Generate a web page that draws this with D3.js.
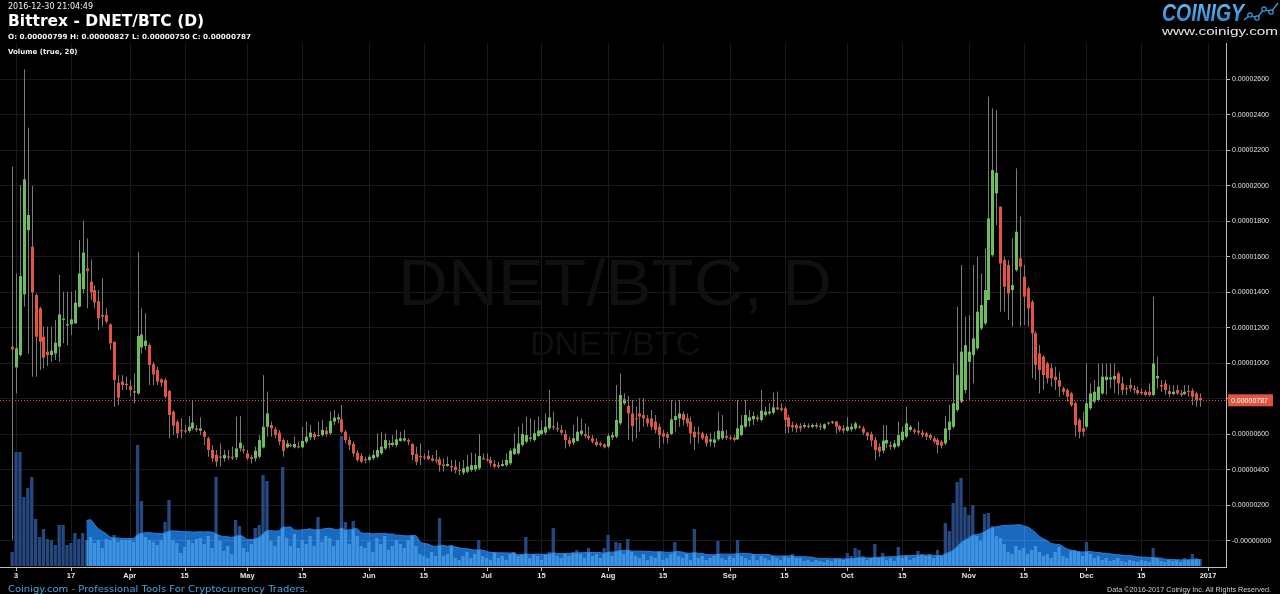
<!DOCTYPE html>
<html><head><meta charset="utf-8">
<script src="https://cdn.jsdelivr.net/npm/d3@7"></script>
<style>
html,body{margin:0;padding:0;background:#000;overflow:hidden;}
svg{display:block;}
</style></head><body>
<svg id="c" width="1280" height="594"></svg>
<script>
// ---- DATA (prices in satoshi = 1e-8 BTC), one candle per day starting 2016-03-02 ----
const startDate = "2016-03-02";
const openS = [1089,973,1042,1384,1746,1652,1380,1305,1145,1061,1042,1051,1089,1243,1213,1215,1220,1314,1414,1530,1455,1408,1346,1268,1267,1215,1117,886,892,880,867,839,826,1085,1093,1098,990,958,905,901,839,723,666,620,617,614,629,629,
616,610,573,507,479,470,460,471,469,466,516,511,488,466,460,469,522,638,648,623,605,563,522,536,522,529,522,554,578,597,592,591,616,601,667,680,680,610,563,541,492,473,456,451,460,469,488,516,544,535,535,
558,560,563,541,484,473,470,475,460,452,454,426,417,417,413,395,379,385,394,398,404,461,456,451,428,422,417,422,432,484,488,535,554,570,563,586,597,605,629,640,631,620,597,563,548,558,597,597,586,573,554,
544,539,526,578,582,657,770,755,713,686,713,704,685,685,667,638,601,597,597,676,685,710,685,667,610,606,601,586,554,548,567,573,586,577,576,567,591,638,670,680,691,676,704,713,717,747,742,742,691,648,648,
642,638,643,638,640,643,629,662,661,667,642,629,616,623,629,639,629,605,597,563,526,503,544,535,522,529,563,582,620,620,616,605,601,591,573,563,554,
544,620,638,732,779,845,1004,1042,1080,1192,1220,1352,1605,1953,1878,1577,1549,1408,1521,1587,1483,1418,1342,1164,1051,1033,995,967,920,901,854,845,826,770,676,629,638,742,779,789,826,901,905,905,939,882,856,873,854,845,835,835,835,817,911,873,882,839,822,845,826,822,840,841,826,799];
const highS = [2103,1502,2000,2651,2323,1994,1389,1314,1202,1202,1202,1239,1493,1399,1399,1399,1408,1690,1799,1699,1581,1436,1408,1474,1305,1220,1117,929,929,920,901,939,1624,1305,1277,1108,1004,976,911,911,845,730,676,685,648,698,788,648,
691,620,582,535,507,544,507,507,526,695,698,535,507,479,526,591,929,836,667,638,620,573,563,544,582,554,638,667,648,610,667,676,638,723,732,713,760,620,582,554,507,488,469,479,507,601,610,601,563,591,620,
610,620,573,544,526,544,488,507,479,507,469,460,469,451,451,441,451,479,492,488,597,488,488,469,451,441,451,488,516,601,638,657,695,685,676,695,676,713,845,723,667,648,620,582,648,695,685,657,638,591,573,
554,544,601,610,873,939,826,811,789,751,798,798,704,732,704,657,620,610,789,779,789,723,713,695,638,638,610,601,601,610,723,704,620,591,591,789,704,789,732,723,704,845,751,770,830,836,770,751,704,667,657,
657,661,657,657,661,657,657,667,672,672,648,648,691,657,667,648,642,610,610,582,544,648,648,554,563,667,638,751,648,629,667,620,610,601,586,573,563,
700,760,995,1314,1549,1258,1267,1549,1596,1502,1643,2497,2432,2422,1878,1596,1577,1699,2094,1821,1549,1427,1352,1174,1098,1042,1004,995,976,948,864,854,835,779,685,723,995,882,901,995,995,995,995,995,948,920,873,911,873,864,854,845,882,1371,1033,901,901,873,873,873,845,873,873,854,835,827];
const lowS = [0,826,1033,1314,1051,920,920,958,967,980,1004,1014,1004,1108,1098,1155,1218,1310,1389,1305,1352,1305,1183,1202,1220,1070,751,760,845,845,807,770,817,1051,1070,873,873,873,864,798,573,591,573,573,601,604,620,610,
591,535,469,441,413,413,441,451,451,451,498,488,451,432,441,460,516,582,582,573,535,469,516,522,516,516,516,544,563,563,582,582,582,591,648,657,601,544,507,469,441,432,432,441,451,460,479,507,516,526,522,
554,554,535,451,422,422,451,451,441,432,385,385,413,385,375,366,366,376,385,385,394,451,441,413,404,404,413,413,422,479,479,525,544,554,554,582,591,591,620,620,610,591,516,526,535,554,586,573,563,544,526,
526,516,516,563,573,648,760,563,554,573,610,638,638,620,601,516,544,544,591,610,638,648,638,544,507,544,563,526,526,522,559,563,563,563,554,563,586,629,638,648,667,667,695,704,708,732,723,601,601,610,605,
610,629,629,629,629,620,620,648,653,601,610,601,610,610,620,629,591,563,526,451,469,488,516,507,511,522,554,573,610,597,591,578,563,563,544,488,516,
535,563,629,723,770,826,789,882,1070,1183,1211,1352,1596,1774,1286,1286,1239,1202,1512,1202,1211,1202,911,901,826,845,882,864,845,807,817,779,751,582,573,582,629,732,770,779,817,817,854,826,817,817,817,835,826,817,817,811,807,811,854,835,817,807,817,817,807,817,807,760,751,750];
const closeS = [1074,1080,1487,2032,1831,1395,1145,1117,1027,1042,1066,1111,1271,1247,1216,1243,1337,1502,1619,1515,1395,1339,1249,1258,1230,1108,901,802,873,872,845,830,1149,1158,1123,986,933,892,886,807,704,644,601,614,615,638,661,620,
629,582,507,460,441,468,479,469,460,516,548,503,460,456,503,563,638,713,629,591,554,503,544,534,541,522,558,582,605,578,590,620,597,670,689,691,610,563,535,488,451,441,451,469,479,507,526,563,535,548,567,
573,573,554,479,441,466,468,456,447,450,422,417,428,409,394,394,404,413,422,422,473,460,455,432,413,413,428,451,503,516,544,597,591,578,601,616,620,638,691,636,627,605,563,541,573,610,616,586,573,554,535,
535,522,586,591,676,817,792,713,642,683,695,685,657,638,620,591,582,576,680,698,713,676,657,601,578,604,573,544,567,567,616,614,576,575,563,629,648,704,691,699,680,729,723,723,747,736,732,676,638,635,629,
629,648,641,648,648,641,652,660,667,638,620,616,638,638,657,637,605,586,560,507,498,560,563,526,544,591,610,657,638,610,605,591,582,573,554,535,531,
629,667,770,929,1061,1098,1061,1136,1286,1324,1408,1812,2084,2069,1558,1427,1389,1436,1737,1540,1371,1305,1164,986,958,929,911,911,901,864,835,807,760,648,610,610,770,826,835,864,920,920,916,924,882,845,852,854,845,826,826,817,817,995,924,864,845,822,835,826,817,835,838,807,789,787];
const volume = [14,114,114,69,78,89,47,29,37,27,26,21,41,41,21,23,33,27,33,26,29,23,26,18,27,26,31,24,26,26,26,24,121,65,29,26,24,21,26,44,66,26,23,13,19,26,23,27,
28,22,30,18,89,25,15,20,12,46,40,18,14,22,38,41,91,85,25,20,30,99,28,20,32,18,26,22,30,20,49,24,30,28,20,26,130,44,22,45,30,20,18,24,14,28,22,30,16,20,26,
22,18,26,30,20,12,10,8,14,10,48,10,12,21,8,6,10,14,8,12,26,10,8,6,14,8,10,6,12,14,10,12,29,8,12,10,6,12,14,38,10,8,12,10,14,16,12,8,18,10,12,
8,18,31,10,24,23,12,27,14,10,8,12,6,10,8,15,6,8,12,24,10,8,12,6,37,8,10,6,8,10,25,8,6,10,8,26,10,8,6,12,6,10,8,6,10,8,6,10,8,12,8,
8,5,6,4,6,5,4,6,5,8,8,6,13,10,18,16,10,6,8,22,8,13,6,8,5,19,8,10,6,8,15,12,10,12,8,16,10,
43,35,63,84,88,59,51,61,30,25,52,53,40,30,28,22,14,12,20,16,18,12,16,20,14,10,12,8,14,19,10,8,15,16,14,10,24,12,8,10,6,8,5,6,8,5,4,6,5,4,6,5,4,18,8,5,4,6,5,6,4,8,6,12,8,7];
const maLength = 20;
const xTickDates = ["2016-03-03","2016-03-17","2016-04-01","2016-04-15","2016-05-01","2016-05-15","2016-06-01","2016-06-15","2016-07-01","2016-07-15","2016-08-01","2016-08-15","2016-09-01","2016-09-15","2016-10-01","2016-10-15","2016-11-01","2016-11-15","2016-12-01","2016-12-15","2017-01-01"];
const xTickLabels = ["3","17","Apr","15","May","15","Jun","15","Jul","15","Aug","15","Sep","15","Oct","15","Nov","15","Dec","15","2017"];
const yTicks = [0,200,400,600,800,1000,1200,1400,1600,1800,2000,2200,2400,2600];
const yTickLabels = ["-0.00000000","0.00000200","0.00000400","0.00000600","0.00000800","0.00001000","0.00001200","0.00001400","0.00001600","0.00001800","0.00002000","0.00002200","0.00002400","0.00002600"];

// ---- LAYOUT ----
const W = 1280, H = 594;
const plotRight = 1226, plotTop = 43, plotBottom = 567;
const svg = d3.select("#c");
svg.append("rect").attr("width", W).attr("height", H).attr("fill", "#000");

const parse = s => new Date(s + "T00:00:00Z");
const t0 = parse(startDate);
const data = openS.map((o, i) => ({
  date: d3.utcDay.offset(t0, i), o, h: highS[i], l: lowS[i], c: closeS[i], v: volume[i]
}));
data.forEach((d, i) => {
  if (i >= maLength - 1) d.ma = d3.mean(volume.slice(i - maLength + 1, i + 1));
});

const x = d3.scaleUtc().domain([parse("2016-03-03"), parse("2017-01-01")]).range([16, 1208]);
const y = d3.scaleLinear().domain([0, 2600]).range([540, 78.5]);
const yv = d3.scaleLinear().domain([0, 100]).range([566, 466]);

const SANS = "'Liberation Sans', Arial, sans-serif";
const DEJ = "'DejaVu Sans', Verdana, sans-serif";

// grid
const grid = svg.append("g").attr("stroke", "#1a1a1a").attr("stroke-width", 1);
grid.selectAll("line.v").data(xTickDates).join("line")
  .attr("x1", d => Math.round(x(parse(d))) + 0.5).attr("x2", d => Math.round(x(parse(d))) + 0.5)
  .attr("y1", plotTop).attr("y2", plotBottom);
grid.selectAll("line.h").data(yTicks).join("line")
  .attr("x1", 0).attr("x2", plotRight)
  .attr("y1", d => Math.round(y(d)) + 0.5).attr("y2", d => Math.round(y(d)) + 0.5);

// watermark
svg.append("text").attr("x", 615).attr("y", 305).attr("text-anchor", "middle")
  .attr("font-family", SANS).attr("font-size", 64).attr("fill", "#101010")
  .attr("textLength", 434).attr("lengthAdjust", "spacingAndGlyphs").text("DNET/BTC, D");
svg.append("text").attr("x", 615).attr("y", 355).attr("text-anchor", "middle")
  .attr("font-family", SANS).attr("font-size", 34).attr("fill", "#0f0f0f")
  .attr("textLength", 170).attr("lengthAdjust", "spacingAndGlyphs").text("DNET/BTC");

// volume bars
svg.append("g").selectAll("rect").data(data).join("rect")
  .attr("x", d => x(d.date) - 1.6).attr("width", 3.3)
  .attr("y", d => yv(d.v)).attr("height", d => yv(0) - yv(d.v))
  .attr("fill", "#27477f");

// volume moving average area
const maData = data.filter(d => d.ma !== undefined);
svg.append("path").datum(maData)
  .attr("d", d3.area().x(d => x(d.date)).y0(yv(0)).y1(d => yv(d.ma)).curve(d3.curveMonotoneX))
  .attr("fill", "#1a69c0").style("mix-blend-mode", "screen");
svg.append("path").datum(maData)
  .attr("d", d3.line().x(d => x(d.date)).y(d => yv(d.ma)).curve(d3.curveMonotoneX))
  .attr("fill", "none").attr("stroke", "#2b80d4").attr("stroke-width", 1);

// candles
const cg = svg.append("g");
cg.selectAll("line").data(data).join("line")
  .attr("x1", d => Math.round(x(d.date)) + 0.5).attr("x2", d => Math.round(x(d.date)) + 0.5)
  .attr("y1", d => y(d.h)).attr("y2", d => y(d.l))
  .attr("stroke", "#7a7a7a").attr("stroke-width", 1);
cg.selectAll("rect").data(data).join("rect")
  .attr("x", d => Math.round(x(d.date)) - 1).attr("width", 3)
  .attr("y", d => y(Math.max(d.o, d.c)))
  .attr("height", d => Math.max(1.2, Math.abs(y(d.o) - y(d.c))))
  .attr("fill", d => d.c >= d.o ? "#6cbd5b" : "#e4543e");

// current price line
const last = data[data.length - 1];
svg.append("line").attr("x1", 0).attr("x2", plotRight)
  .attr("y1", Math.round(y(last.c)) + 0.5).attr("y2", Math.round(y(last.c)) + 0.5)
  .attr("stroke", "#e0553f").attr("stroke-width", 1).attr("stroke-dasharray", "1,2");

// right axis
svg.append("line").attr("x1", plotRight + 0.5).attr("x2", plotRight + 0.5)
  .attr("y1", plotTop).attr("y2", plotBottom).attr("stroke", "#bdbdbd");
const ya = svg.append("g");
ya.selectAll("line").data(yTicks).join("line")
  .attr("x1", plotRight).attr("x2", plotRight + 4)
  .attr("y1", d => Math.round(y(d)) + 0.5).attr("y2", d => Math.round(y(d)) + 0.5)
  .attr("stroke", "#bdbdbd");
ya.selectAll("text").data(yTicks).join("text")
  .attr("x", 1232).attr("y", d => y(d) + 2.5)
  .attr("font-family", SANS).attr("font-size", 7).attr("fill", "#e0e0e0")
  .text((d, i) => yTickLabels[i]);

// current price label
svg.append("rect").attr("x", 1228).attr("y", y(last.c) - 6).attr("width", 45).attr("height", 12)
  .attr("fill", "#e0553f");
svg.append("text").attr("x", 1231).attr("y", y(last.c) + 2.5)
  .attr("font-family", SANS).attr("font-size", 7).attr("fill", "#fff")
  .text((last.c / 1e8).toFixed(8));

// bottom axis
svg.append("line").attr("x1", 0).attr("x2", plotRight + 1)
  .attr("y1", plotBottom + 0.5).attr("y2", plotBottom + 0.5).attr("stroke", "#bdbdbd");
const xa = svg.append("g");
xa.selectAll("line").data(xTickDates).join("line")
  .attr("x1", d => Math.round(x(parse(d))) + 0.5).attr("x2", d => Math.round(x(parse(d))) + 0.5)
  .attr("y1", plotBottom).attr("y2", plotBottom + 4).attr("stroke", "#bdbdbd");
xa.selectAll("text").data(xTickDates).join("text")
  .attr("x", d => x(parse(d))).attr("y", 578).attr("text-anchor", "middle")
  .attr("font-family", SANS).attr("font-weight", "bold").attr("font-size", 7.5).attr("fill", "#e6e6e6")
  .text((d, i) => xTickLabels[i]);

// header
svg.append("text").attr("x", 8).attr("y", 8.5).attr("font-family", DEJ).attr("font-size", 8)
  .attr("fill", "#f2f2f2").text("2016-12-30 21:04:49");
svg.append("text").attr("x", 8).attr("y", 26).attr("font-family", DEJ).attr("font-weight", "bold")
  .attr("font-size", 15.5).attr("fill", "#fff").text("Bittrex - DNET/BTC (D)");
svg.append("text").attr("x", 8).attr("y", 38.5).attr("font-family", DEJ).attr("font-weight", "bold")
  .attr("font-size", 7).attr("fill", "#f2f2f2")
  .attr("textLength", 243).attr("lengthAdjust", "spacingAndGlyphs")
  .text("O: " + (last.o / 1e8).toFixed(8) + " H: " + (last.h / 1e8).toFixed(8) + " L: " + (last.l / 1e8).toFixed(8) + " C: " + (last.c / 1e8).toFixed(8));
svg.append("text").attr("x", 8).attr("y", 53.5).attr("font-family", DEJ).attr("font-weight", "bold")
  .attr("font-size", 7).attr("fill", "#f2f2f2").text("Volume (true, " + maLength + ")");

// logo
const grad = svg.append("defs").append("linearGradient").attr("id", "lg")
  .attr("x1", 0).attr("y1", 0).attr("x2", 0).attr("y2", 1);
grad.append("stop").attr("offset", "0%").attr("stop-color", "#6cc4f5");
grad.append("stop").attr("offset", "100%").attr("stop-color", "#1d7fd0");
svg.append("text").attr("x", 1162).attr("y", 21).attr("font-family", "'Liberation Sans Narrow', 'Liberation Sans', Arial, sans-serif")
  .attr("font-weight", "bold").attr("font-style", "italic").attr("font-size", 24)
  .attr("fill", "url(#lg)").attr("textLength", 82).attr("lengthAdjust", "spacingAndGlyphs").text("COINIGY");
const iconPts = [[1244, 20], [1250, 15], [1257, 18], [1264, 9], [1271, 12], [1278, 3]];
svg.append("polyline").attr("points", iconPts.map(p => p.join(",")).join(" "))
  .attr("fill", "none").attr("stroke", "#3a9ee8").attr("stroke-width", 1.3);
svg.append("g").selectAll("circle").data(iconPts.slice(1, 5)).join("circle")
  .attr("cx", d => d[0]).attr("cy", d => d[1]).attr("r", 2.2)
  .attr("fill", "#000").attr("stroke", "#3a9ee8").attr("stroke-width", 1.2);
svg.append("text").attr("x", 1162).attr("y", 34.5).attr("font-family", SANS).attr("font-size", 11.5)
  .attr("fill", "#e8e8e8").attr("textLength", 116).attr("lengthAdjust", "spacingAndGlyphs").text("www.coinigy.com");

// footer
svg.append("text").attr("x", 8).attr("y", 592).attr("font-family", DEJ).attr("font-size", 8.5)
  .attr("fill", "#47a3dd").attr("textLength", 300).attr("lengthAdjust", "spacingAndGlyphs")
  .text("Coinigy.com - Professional Tools For Cryptocurrency Traders.");
svg.append("text").attr("x", 1271).attr("y", 591.5).attr("text-anchor", "end").attr("font-family", SANS)
  .attr("font-size", 6.5).attr("fill", "#d0d0d0").attr("textLength", 164).attr("lengthAdjust", "spacingAndGlyphs")
  .text("Data \u00A92016-2017 Coinigy Inc. All Rights Reserved.");
</script>
</body></html>
